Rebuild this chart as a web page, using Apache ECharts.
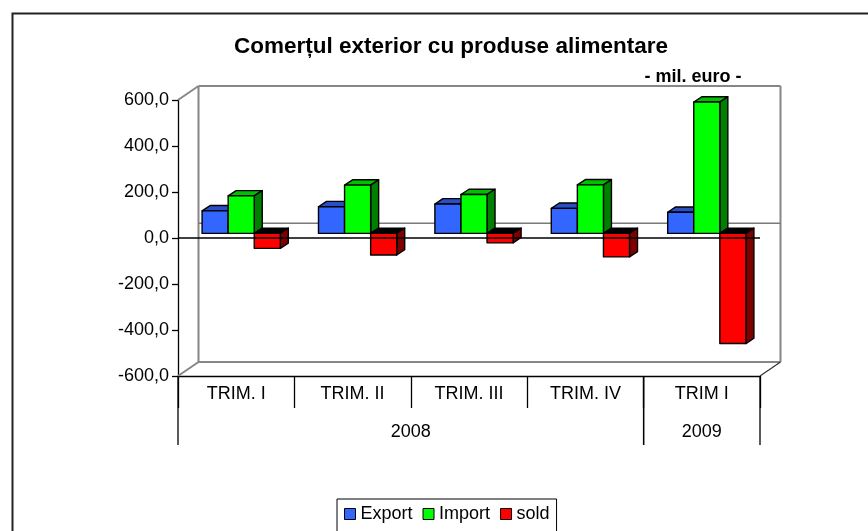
<!DOCTYPE html>
<html>
<head>
<meta charset="utf-8">
<script src="https://cdn.jsdelivr.net/npm/echarts@6/dist/echarts.min.js"></script>
<style>
  html, body { margin: 0; padding: 0; background: #fff; }
  #chart { width: 868px; height: 531px; }
</style>
</head>
<body>
<div id="chart"></div>
<script>
const categories = ['TRIM. I', 'TRIM. II', 'TRIM. III', 'TRIM. IV', 'TRIM I']
const years = ['2008', '2009']
const yearSpans = [4, 1]
const exportValues = [98, 116, 128, 109, 92]
const importValues = [163, 210, 169, 211, 571]
const soldValues = [-65, -94, -41, -102, -479]
const yMin = -600
const yMax = 600
const yStep = 200

const FONT = '"Liberation Sans", Arial, sans-serif'
const WALL = [20.5, -14]     // depth of the back wall
const BAR_SHIFT = [5, -4.6]  // bars sit a little behind the front plane
const BAR_DEPTH = [8, -5.3]
const BAR_RATIO = 0.224

const chart = echarts.init(document.getElementById('chart'))

function toPoints(list) {
  return list.map(p => [p[0], p[1]])
}

function barRenderer(slot, faceColor, topColor, sideColor, negTopColor) {
  return function (params, api) {
    const cat = api.value(0)
    const v = api.value(1)
    const base = api.coord([cat, 0])
    const tip = api.coord([cat, v])
    const w = api.size([1, 0])[0] * BAR_RATIO
    const x0 = base[0] + BAR_SHIFT[0] + (slot - 1.5) * w
    const x1 = x0 + w
    const yTop = Math.min(base[1], tip[1]) + BAR_SHIFT[1]
    const yBot = Math.max(base[1], tip[1]) + BAR_SHIFT[1]
    const [dx, dy] = BAR_DEPTH
    const stroke = { stroke: '#000', lineWidth: 1.4, lineJoin: 'round' }
    return {
      type: 'group',
      children: [
        {
          type: 'polygon',
          shape: { points: toPoints([[x0, yTop], [x1, yTop], [x1 + dx, yTop + dy], [x0 + dx, yTop + dy]]) },
          style: Object.assign({ fill: v < 0 ? negTopColor : topColor }, stroke)
        },
        {
          type: 'polygon',
          shape: { points: toPoints([[x1, yTop], [x1 + dx, yTop + dy], [x1 + dx, yBot + dy], [x1, yBot]]) },
          style: Object.assign({ fill: sideColor }, stroke)
        },
        {
          type: 'rect',
          shape: { x: x0, y: yTop, width: w, height: yBot - yTop },
          style: Object.assign({ fill: faceColor }, stroke)
        }
      ]
    }
  }
}

function frameRenderer(params, api) {
  const g = params.coordSys
  const [dx, dy] = WALL
  const left = g.x, right = g.x + g.width, top = g.y, bottom = g.y + g.height
  const zeroY = api.coord([0, 0])[1]
  const gray = { stroke: '#868686', lineWidth: 2 }
  const line = (x1, y1, x2, y2, style) => ({
    type: 'line', shape: { x1, y1, x2, y2 }, style: style || gray
  })
  return {
    type: 'group',
    children: [
      line(left + dx, top + dy, right + dx, top + dy),
      line(left + dx, top + dy, left + dx, bottom + dy),
      line(right + dx, top + dy, right + dx, bottom + dy),
      line(left + dx, bottom + dy, right + dx, bottom + dy),
      line(left, top, left + dx, top + dy),
      line(left, bottom, left + dx, bottom + dy),
      line(right, bottom, right + dx, bottom + dy, { stroke: '#333', lineWidth: 1.2 }),
      line(left + dx, zeroY + dy - 0.7, right + dx, zeroY + dy - 0.7, { stroke: '#7a7a7a', lineWidth: 1.5 })
    ]
  }
}

function zeroLineRenderer(params, api) {
  const g = params.coordSys
  const y = api.coord([0, 0])[1]
  return {
    type: 'line',
    shape: { x1: g.x, y1: y, x2: g.x + g.width, y2: y },
    style: { stroke: '#000', lineWidth: 1.3 }
  }
}

function yearRenderer(params, api) {
  const g = params.coordSys
  const start = api.value(0)
  const span = api.value(1)
  const band = api.size([1, 0])[0]
  const x0 = api.coord([start, 0])[0] - band / 2
  const x1 = api.coord([start + span - 1, 0])[0] + band / 2
  const bottom = g.y + g.height
  return {
    type: 'group',
    children: [
      { type: 'line', shape: { x1: x0, y1: bottom, x2: x0, y2: bottom + 69 }, style: { stroke: '#000', lineWidth: 1.3 } },
      { type: 'line', shape: { x1: x1, y1: bottom, x2: x1, y2: bottom + 69 }, style: { stroke: '#000', lineWidth: 1.3 } },
      {
        type: 'text',
        style: {
          x: (x0 + x1) / 2, y: bottom + 56, text: years[params.dataIndex],
          fill: '#000', font: '18px ' + FONT, align: 'center', verticalAlign: 'middle'
        }
      }
    ]
  }
}

let yearStart = 0
const yearData = yearSpans.map(s => { const d = [yearStart, s]; yearStart += s; return d })

chart.setOption({
  animation: false,
  backgroundColor: '#fff',
  textStyle: { fontFamily: FONT },
  title: [
    {
      text: 'Comerțul exterior cu produse alimentare',
      left: 446, top: 30, textAlign: 'center',
      textStyle: { fontSize: 22.5, fontWeight: 'bold', color: '#000', fontFamily: FONT }
    },
    {
      text: '- mil. euro -',
      left: 688, top: 63, textAlign: 'center',
      textStyle: { fontSize: 18, fontWeight: 'bold', color: '#000', fontFamily: FONT }
    }
  ],
  legend: {
    data: ['Export', 'Import', 'sold'],
    left: 337, top: 499,
    padding: [6, 7, 30, 7],
    borderColor: '#000', borderWidth: 1,
    itemWidth: 11, itemHeight: 11, itemGap: 10,
    icon: 'rect',
    itemStyle: { borderColor: '#000', borderWidth: 1 },
    textStyle: { fontSize: 18, color: '#000', fontFamily: FONT }
  },
  graphic: [
    {
      type: 'rect', left: 10, top: 11, silent: true,
      shape: { x: 0, y: 0, width: 900, height: 560 },
      style: { fill: 'none', stroke: '#222', lineWidth: 2 }
    }
  ],
  grid: { left: 178, top: 100, width: 582, height: 276, containLabel: false },
  xAxis: {
    type: 'category',
    data: categories,
    axisLine: { onZero: false, lineStyle: { color: '#000', width: 1.3 } },
    axisTick: { show: true, interval: 0, length: 32, alignWithLabel: false, lineStyle: { color: '#000', width: 1.3 } },
    axisLabel: { interval: 0, margin: 9, fontSize: 18, color: '#000', fontFamily: FONT },
    splitLine: { show: false }
  },
  yAxis: {
    type: 'value',
    min: yMin, max: yMax, interval: yStep,
    axisLine: { show: true, lineStyle: { color: '#000', width: 1.3 } },
    axisTick: { show: true, length: 6, lineStyle: { color: '#000', width: 1.3 } },
    axisLabel: {
      margin: 9, fontSize: 18, color: '#000', fontFamily: FONT,
      formatter: v => v.toFixed(1).replace('.', ',')
    },
    splitLine: { show: false }
  },
  series: [
    { name: 'frame', type: 'custom', z: 1, silent: true, data: [[0, 0]], renderItem: frameRenderer },
    {
      name: 'Export', type: 'custom', z: 2, itemStyle: { color: '#3366ff' },
      data: exportValues.map((v, i) => [i, v]),
      renderItem: barRenderer(0, '#3366ff', '#2a4fc4', '#1f3d99', '#000')
    },
    {
      name: 'Import', type: 'custom', z: 3, itemStyle: { color: '#00ff00' },
      data: importValues.map((v, i) => [i, v]),
      renderItem: barRenderer(1, '#00ff00', '#00c000', '#008000', '#000')
    },
    {
      name: 'sold', type: 'custom', z: 4, itemStyle: { color: '#ff0000' },
      data: soldValues.map((v, i) => [i, v]),
      renderItem: barRenderer(2, '#ff0000', '#c00000', '#800000', '#000')
    },
    { name: 'zero', type: 'custom', z: 6, silent: true, data: [[0, 0]], renderItem: zeroLineRenderer },
    { name: 'years', type: 'custom', z: 6, silent: true, data: yearData, renderItem: yearRenderer }
  ]
})
</script>
</body>
</html>
